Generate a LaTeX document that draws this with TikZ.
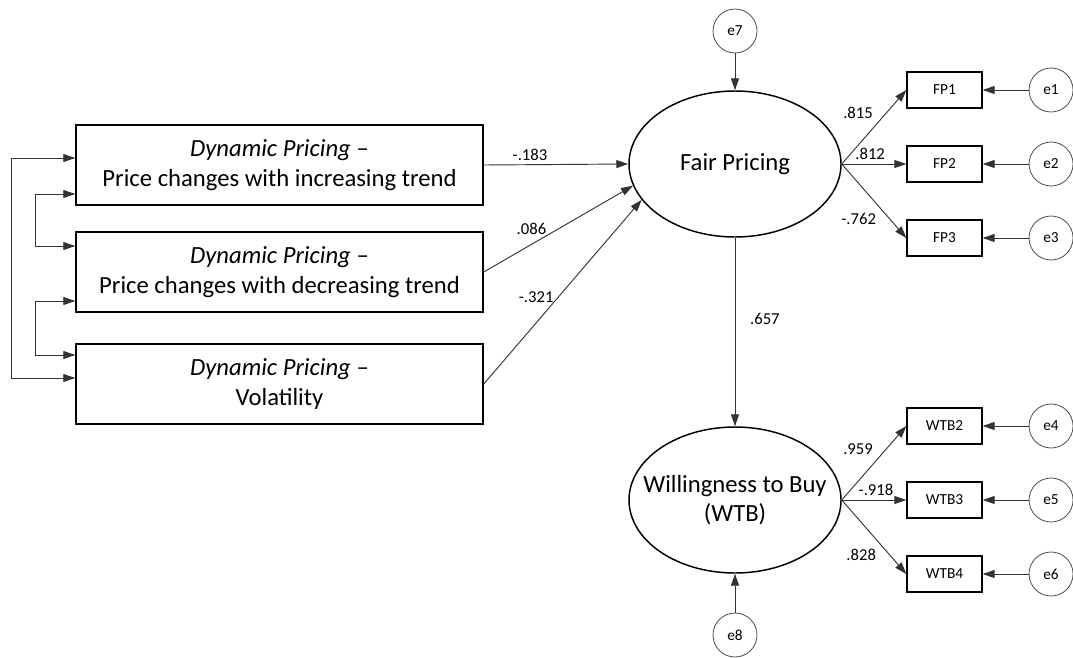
\documentclass[tikz,border=0pt]{standalone}
\usepackage{fontspec}
\setmainfont{Carlito}
\usepackage{tikz}
\usetikzlibrary{shapes.geometric}
\usetikzlibrary{positioning}
\usetikzlibrary{arrows.meta}
\tikzstyle{observed} = [rectangle, minimum width=305.25pt, minimum height=60pt, text centered, align=center, draw=black, line width=1.1pt, font=\fontsize{18.5}{23}\selectfont]
\tikzstyle{latent} = [ellipse, minimum width=159pt, minimum height=109.5pt, inner sep=0pt, text centered, align=center, draw=black, line width=1.1pt, font=\fontsize{18.5}{22}\selectfont]
\tikzstyle{indicator} = [rectangle, minimum width=56.25pt, minimum height=27pt, text centered, draw=black, line width=1pt, font=\fontsize{11.5}{14}\selectfont]
\tikzstyle{error} = [circle, minimum size=33pt, inner sep=0pt, draw=black!70, line width=0.6pt, font=\fontsize{11.5}{14}\selectfont]
\tikzstyle{coef} = [font=\fontsize{12.5}{15}\selectfont, inner sep=3pt]
\tikzstyle{arrow} = [draw=black!80, line width=0.7pt, -{Triangle[length=9pt,width=6pt]}]
\tikzstyle{cov} = [draw=black!80, line width=0.7pt, {Triangle[length=9pt,width=6pt]}-{Triangle[length=9pt,width=6pt]}]

\begin{document}
\begin{tikzpicture}[x=0.75pt, y=-0.75pt, node distance=55.5pt]
        \useasboundingbox (0,0) rectangle (1073,657);

        \node (fp) [latent] at (735,164) {\makebox[0pt]{Fair Pricing}};
        \node (wtb) [latent] at (735,500) {\makebox[0pt]{Willingness to Buy}\\\makebox[0pt]{(WTB)}};
        \node (e7) [error, above of=fp, yshift=44.25pt] {e7};
        \node (e8) [error, below of=wtb, yshift=-45.75pt] {e8};

        \node (dp1) [observed] at (279.5,165) {\textit{Dynamic Pricing} --\\Price changes with increasing trend};
        \node (dp2) [observed, below of=dp1, yshift=-24.75pt] {\textit{Dynamic Pricing} --\\Price changes with decreasing trend};
        \node (dp3) [observed, below of=dp2, yshift=-28.5pt] {\textit{Dynamic Pricing} --\\Volatility};

        \node (fp2) [indicator] at (944.5,164) {FP2};
        \node (fp1) [indicator, above of=fp2] {FP1};
        \node (fp3) [indicator, below of=fp2] {FP3};
        \node (wtb3) [indicator] at (944.5,500) {WTB3};
        \node (wtb2) [indicator, above of=wtb3] {WTB2};
        \node (wtb4) [indicator, below of=wtb3] {WTB4};

        \node (e1) [error, right of=fp1, xshift=24.4pt] {e1};
        \node (e2) [error, right of=fp2, xshift=24.4pt] {e2};
        \node (e3) [error, right of=fp3, xshift=24.4pt] {e3};
        \node (e4) [error, right of=wtb2, xshift=24.4pt] {e4};
        \node (e5) [error, right of=wtb3, xshift=24.4pt] {e5};
        \node (e6) [error, right of=wtb4, xshift=24.4pt] {e6};

        % covariances
        \draw [cov] ([yshift=5.25pt]dp1.west) -- ++(-64,0) |- ([yshift=4.5pt]dp3.west);
        \draw [cov] ([yshift=-21.75pt]dp1.west) -- ++(-40,0) |- ([yshift=19.5pt]dp2.west);
        \draw [cov] ([yshift=-21.75pt]dp2.west) -- ++(-40,0) |- ([yshift=21.75pt]dp3.west);

        % structural paths
        \draw [arrow] (dp1.east) -- node (c183) [coef, pos=0.32, above] {-.183} (fp.west);
        \draw [arrow] (dp2.east) -- node (c086) [coef, pos=0.32, above, yshift=4pt] {.086} (fp.192);
        \draw [arrow] (dp3.east) -- node (c321) [coef, pos=0.47, left] {-.321} (fp.201);
        \draw [arrow] (fp) -- node (c657) [coef, pos=0.43, right, xshift=8pt] {.657} (wtb);
        \draw [arrow] (e7) -- (fp);
        \draw [arrow] (e8) -- (wtb);

        % loadings
        \draw [arrow] (fp.east) -- node (c815) [coef, pos=0.55, above left] {.815} (fp1.west);
        \draw [arrow] (fp.east) -- node (c812) [coef, pos=0.44, above] {.812} (fp2.west);
        \draw [arrow] (fp.east) -- node (c762) [coef, pos=0.6, below left] {-.762} (fp3.west);
        \draw [arrow] (wtb.east) -- node (c959) [coef, pos=0.55, above left] {.959} (wtb2.west);
        \draw [arrow] (wtb.east) -- node (c918) [coef, pos=0.53, above] {-.918} (wtb3.west);
        \draw [arrow] (wtb.east) -- node (c828) [coef, pos=0.6, below left] {.828} (wtb4.west);

        \draw [arrow] (e1) -- (fp1);
        \draw [arrow] (e2) -- (fp2);
        \draw [arrow] (e3) -- (fp3);
        \draw [arrow] (e4) -- (wtb2);
        \draw [arrow] (e5) -- (wtb3);
        \draw [arrow] (e6) -- (wtb4);
    \end{tikzpicture}
\end{document}
